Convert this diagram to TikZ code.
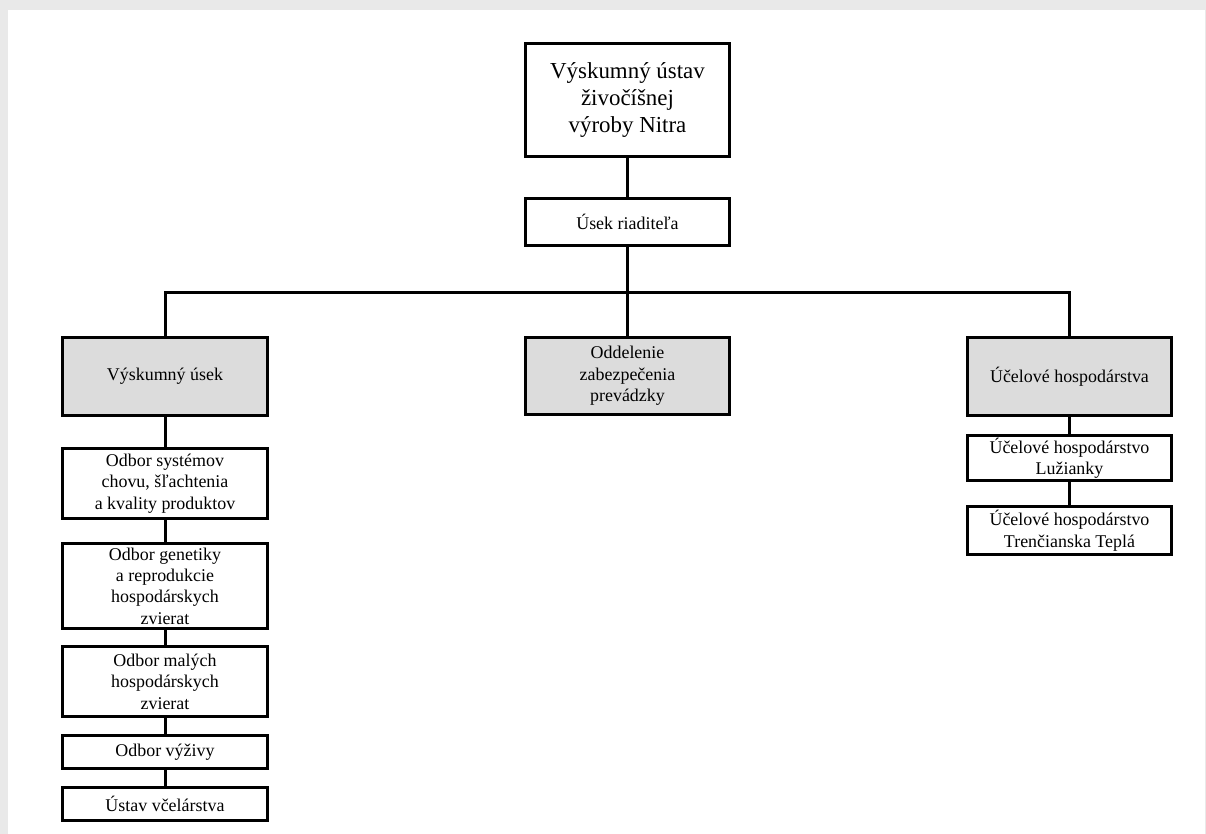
\documentclass[tikz,border=0pt]{standalone}
\usepackage{fontspec}
\setmainfont{Liberation Serif}
\usetikzlibrary{positioning,calc}
\definecolor{pagegray}{HTML}{E9E9E9}
\definecolor{boxgray}{HTML}{DCDCDC}
\tikzset{
  box/.style={draw=black, line width=3bp, align=center, fill=white, minimum width=204bp, inner sep=0pt, font=\fontsize{18}{21.5}\selectfont},
  graybox/.style={box, fill=boxgray},
  topbox/.style={box, font=\fontsize{23}{27}\selectfont},
  link/.style={draw=black, line width=3bp}
}
\begin{document}
\begin{tikzpicture}[x=1bp, y=-1bp]
  % page
  \fill[pagegray] (0,0) rectangle (1206,834);
  \fill[white] (8,10) rectangle (1205,834);
  \useasboundingbox (0,0) rectangle (1206,834);

  % top levels
  \node[topbox, minimum height=113bp] (ustav) at (627.5,100) {Výskumný ústav\\živočíšnej\\výroby Nitra};
  \node[box, minimum height=47bp] (riad) at (627.5,222) {Úsek riaditeľa};

  % second level
  \node[graybox, minimum height=78bp] (vyskum) at (165,376.5) {Výskumný úsek};
  \node[graybox, minimum height=77bp] (oddel) at (627.5,376) {Oddelenie\\zabezpečenia\\prevádzky};
  \node[graybox, minimum height=78bp] (ucel) at (1069.5,376.5) {Účelové hospodárstva};

  % research branch
  \node[box, minimum height=70bp] (chov) at (165,483.5) {Odbor systémov\\chovu, šľachtenia\\a kvality produktov};
  \node[box, minimum height=85bp] (genet) at (165,586) {Odbor genetiky\\a reprodukcie\\hospodárskych\\zvierat};
  \node[box, minimum height=70bp] (malych) at (165,681.5) {Odbor malých\\hospodárskych\\zvierat};
  \node[box, minimum height=33bp] (vyziva) at (165,752) {Odbor výživy};
  \node[box, minimum height=33bp] (vcel) at (165,804) {Ústav včelárstva};

  % farms branch
  \node[box, minimum height=45bp] (luz) at (1069.5,458) {Účelové hospodárstvo\\Lužianky};
  \node[box, minimum height=48bp] (tren) at (1069.5,530.5) {Účelové hospodárstvo\\Trenčianska Teplá};

  % connectors
  \coordinate (bus) at (627.5,292);
  \draw[link] (ustav) -- (riad);
  \draw[link] (riad) -- (bus);
  \draw[link] (vyskum.north) |- (bus) -| (ucel.north);
  \draw[link] (bus) -- (oddel);
  \draw[link] (vyskum) -- (chov);
  \draw[link] (chov) -- (genet);
  \draw[link] (genet) -- (malych);
  \draw[link] (malych) -- (vyziva);
  \draw[link] (vyziva) -- (vcel);
  \draw[link] (ucel) -- (luz);
  \draw[link] (luz) -- (tren);
\end{tikzpicture}
\end{document}
